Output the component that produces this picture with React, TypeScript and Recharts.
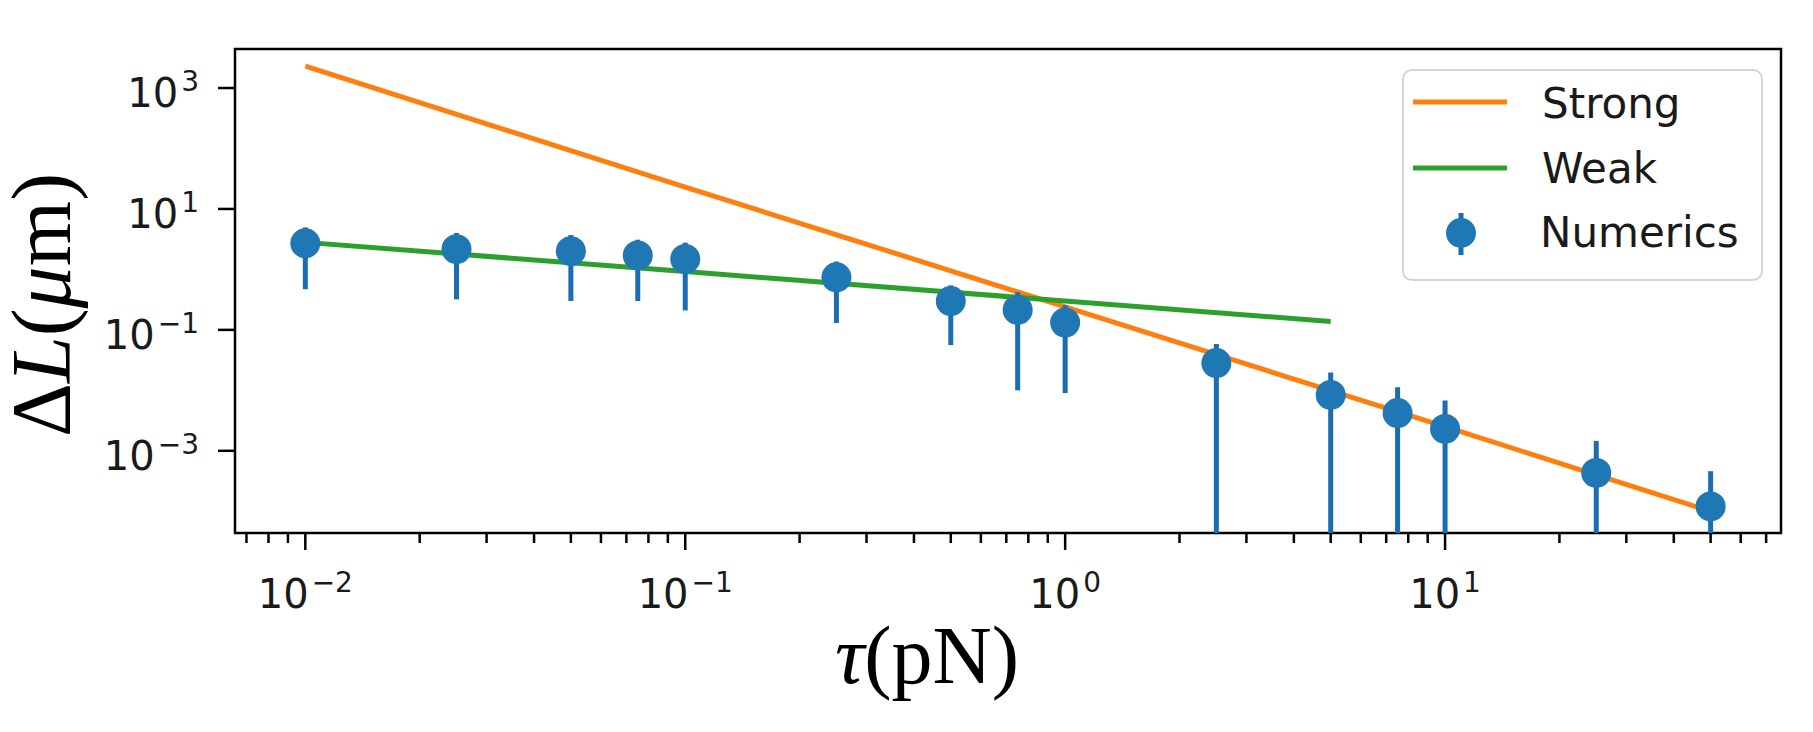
import { ComposedChart, Line, Scatter, ErrorBar, XAxis, YAxis, ReferenceArea, Customized } from "recharts"

// chart layout (pixels)
const WIDTH = 1813
const HEIGHT = 732
const MARGIN = { top: 49, right: 32, bottom: 198, left: 234 }

// axis ranges (log scales)
const X_DOMAIN = [0.00653, 76.6]
const Y_DOMAIN = [4.37e-5, 4.42e3]

// ticks
const xMajorTicks = [0.01, 0.1, 1, 10]
const xMajorLabels = ["\u22122", "\u22121", "0", "1"]
const xMinorTicks = [
    0.007, 0.008, 0.009,
    0.02, 0.03, 0.04, 0.05, 0.06, 0.07, 0.08, 0.09,
    0.2, 0.3, 0.4, 0.5, 0.6, 0.7, 0.8, 0.9,
    2, 3, 4, 5, 6, 7, 8, 9,
    20, 30, 40, 50, 60, 70,
]
const yTicks = [0.001, 0.1, 10, 1000]
const yTickLabels = ["\u22123", "\u22121", "1", "3"]

// series
const seriesNames = ["Strong", "Weak", "Numerics"]

const strongTau = [0.01, 0.1, 1, 10, 50]
const strongDL = [2300, 23, 0.24, 0.0025, 0.0001]

const weakTau = [0.01, 0.1, 1, 5]
const weakDL = [2.8, 0.92, 0.3, 0.138]

const numericsTau = [0.01, 0.025, 0.05, 0.075, 0.1, 0.25, 0.5, 0.75, 1, 2.5, 5, 7.5, 10, 25, 50]
const numericsDL = [2.71, 2.16, 2.0, 1.7, 1.49, 0.74, 0.3, 0.214, 0.132, 0.0282, 0.0084, 0.0042, 0.0023, 0.00043, 0.00012]
const numericsErr = [2.24, 1.84, 1.7, 1.4, 1.28, 0.61, 0.244, 0.204, 0.123, 0.0304, 0.0113, 0.0071, 0.0045, 0.00103, 0.00034]

const ORANGE = "#ff7f0e"
const GREEN = "#2ca02c"
const BLUE = "#1f77b4"
const BAR_BLUE = "#1a6db0"
const TEXT = "#1a1a1a"

const strongData = strongTau.map((tau, i) => ({ tau, dl: strongDL[i] }))
const weakData = weakTau.map((tau, i) => ({ tau, dl: weakDL[i] }))
// bars whose lower end falls below zero run to the bottom of the axes
const numericsData = numericsTau.map((tau, i) => ({
    tau,
    dl: numericsDL[i],
    err: [Math.min(numericsErr[i], numericsDL[i] - Y_DOMAIN[0]), numericsErr[i]],
}))

const allXTicks = [...xMajorTicks, ...xMinorTicks].sort((a, b) => a - b)

function XTick(props: any) {
    const { x, y, payload } = props
    const i = xMajorTicks.indexOf(payload.value)
    const major = i >= 0
    return (
        <g>
            <line x1={x} x2={x} y1={y} y2={y + (major ? 17 : 10)} stroke="#000" strokeWidth={2.5} />
            {major && (
                <text x={x} y={y + 75} textAnchor="middle" fontFamily="DejaVu Sans" fontSize={40} fill={TEXT}>
                    10
                    <tspan dx={3} dy={-16} fontSize={28}>
                        {xMajorLabels[i]}
                    </tspan>
                </text>
            )}
        </g>
    )
}

function YTick(props: any) {
    const { x, y, payload } = props
    const i = yTicks.indexOf(payload.value)
    return (
        <g>
            <line x1={x} x2={x - 17} y1={y} y2={y} stroke="#000" strokeWidth={2.5} />
            <text x={x - 36} y={y + 19} textAnchor="end" fontFamily="DejaVu Sans" fontSize={40} fill={TEXT}>
                10
                <tspan dx={3} dy={-16} fontSize={28}>
                    {yTickLabels[i]}
                </tspan>
            </text>
        </g>
    )
}

function NumericsDot(props: any) {
    const { cx, cy } = props
    if (cx == null || cy == null) return null
    return <circle cx={cx} cy={cy} r={15} fill={BLUE} />
}

function AxisLabels() {
    return (
        <g fontFamily="Liberation Serif" fill="#000">
            <text transform="translate(70,305) rotate(-90)" textAnchor="middle" fontSize={84}>
                Δ<tspan fontStyle="italic">L</tspan>(<tspan fontStyle="italic">μ</tspan>m)
            </text>
            <text x={927} y={683} textAnchor="middle" fontSize={82}>
                <tspan fontStyle="italic">τ</tspan>(pN)
            </text>
        </g>
    )
}

function LegendBox() {
    return (
        <g fontFamily="DejaVu Sans" fontSize={42} fill={TEXT}>
            <rect x={1403} y={70} width={359} height={210} rx={9} fill="#fff" fillOpacity={0.8} stroke="#d4d4d4" strokeWidth={2} />
            <line x1={1413} x2={1507} y1={102} y2={102} stroke={ORANGE} strokeWidth={5} />
            <text x={1542} y={118}>{seriesNames[0]}</text>
            <line x1={1413} x2={1507} y1={168} y2={168} stroke={GREEN} strokeWidth={5} />
            <text x={1542} y={183}>{seriesNames[1]}</text>
            <line x1={1461} x2={1461} y1={213} y2={255} stroke={BAR_BLUE} strokeWidth={5} />
            <circle cx={1461} cy={233} r={15} fill={BLUE} />
            <text x={1540} y={247}>{seriesNames[2]}</text>
        </g>
    )
}

export default function App() {
    return (
        <div style={{ position: "absolute", left: 0, top: 0, width: WIDTH, height: HEIGHT, background: "#fff" }}>
            <ComposedChart width={WIDTH} height={HEIGHT} margin={MARGIN}>
                <XAxis
                    dataKey="tau"
                    type="number"
                    scale="log"
                    domain={X_DOMAIN}
                    allowDataOverflow
                    ticks={allXTicks}
                    interval={0}
                    height={1}
                    tickSize={0}
                    tickMargin={0}
                    tickLine={false}
                    axisLine={false}
                    tick={<XTick />}
                />
                <YAxis
                    type="number"
                    scale="log"
                    domain={Y_DOMAIN}
                    allowDataOverflow
                    ticks={yTicks}
                    interval={0}
                    width={1}
                    tickSize={0}
                    tickMargin={0}
                    tickLine={false}
                    axisLine={false}
                    tick={<YTick />}
                />
                <Line
                    data={strongData}
                    dataKey="dl"
                    name={seriesNames[0]}
                    type="linear"
                    stroke={ORANGE}
                    strokeWidth={5}
                    dot={false}
                    activeDot={false}
                    isAnimationActive={false}
                />
                <Line
                    data={weakData}
                    dataKey="dl"
                    name={seriesNames[1]}
                    type="linear"
                    stroke={GREEN}
                    strokeWidth={5}
                    dot={false}
                    activeDot={false}
                    isAnimationActive={false}
                />
                <Scatter data={numericsData} dataKey="dl" name={seriesNames[2]} shape={<NumericsDot />} isAnimationActive={false}>
                    <ErrorBar dataKey="err" direction="y" width={0} stroke={BAR_BLUE} strokeWidth={5} isAnimationActive={false} />
                </Scatter>
                <ReferenceArea
                    x1={X_DOMAIN[0]}
                    x2={X_DOMAIN[1]}
                    y1={Y_DOMAIN[0]}
                    y2={Y_DOMAIN[1]}
                    ifOverflow="visible"
                    fill="none"
                    stroke="#000"
                    strokeWidth={2.5}
                />
                <Customized component={AxisLabels} />
                <Customized component={LegendBox} />
            </ComposedChart>
        </div>
    )
}
